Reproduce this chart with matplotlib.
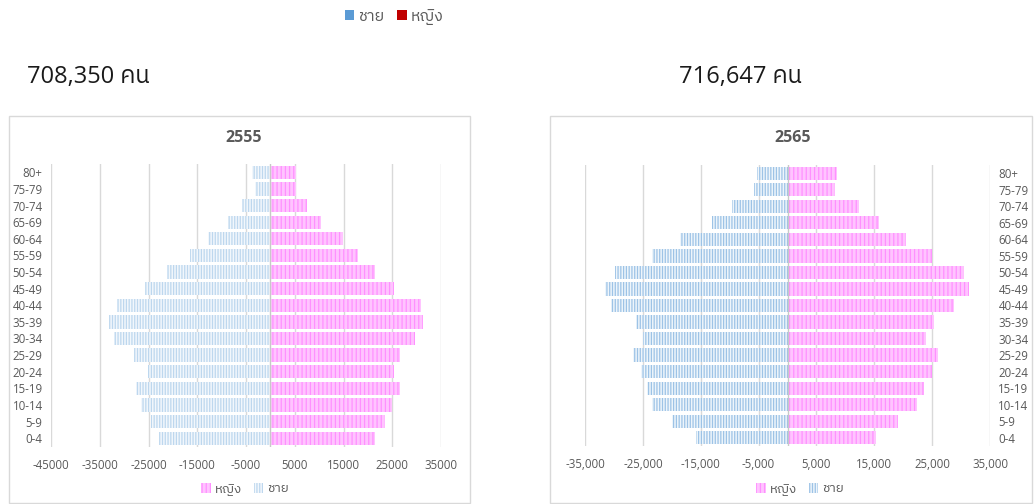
import matplotlib
matplotlib.use("Agg")
import matplotlib.pyplot as plt
from matplotlib import font_manager
from matplotlib.ft2font import FT2Font
from matplotlib.patches import Rectangle, Patch
from matplotlib.ticker import FuncFormatter, FixedLocator

# ---------------- data ----------------
age_groups = ["0-4", "5-9", "10-14", "15-19", "20-24", "25-29", "30-34", "35-39",
              "40-44", "45-49", "50-54", "55-59", "60-64", "65-69", "70-74", "75-79", "80+"]

male_2555 = [22880, 24510, 26640, 27660, 25200, 28070, 32010, 33100,
             31460, 25680, 21120, 16490, 12750, 8790, 5720, 3200, 3760]
female_2555 = [21520, 23490, 25050, 26620, 25400, 26620, 29680, 31380,
               30970, 25400, 21520, 18040, 14840, 10480, 7420, 5250, 5310]

male_2565 = [15830, 19940, 23420, 24230, 25280, 26720, 24990, 26260,
             30430, 31590, 29800, 23480, 18550, 12990, 9510, 5855, 5275]
female_2565 = [15250, 19070, 22430, 23590, 25040, 26030, 23880, 25330,
               28810, 31300, 30490, 25040, 20410, 15880, 12410, 8230, 8640]

titles = ["2555", "2565"]
totals = ["708,350 คน", "716,647 คน"]
label_male = "ชาย"
label_female = "หญิง"
ticks_2555 = [-45000, -35000, -25000, -15000, -5000, 5000, 15000, 25000, 35000]
ticks_2565 = [-35000, -25000, -15000, -5000, 5000, 15000, 25000, 35000]

# ---------------- fonts ----------------
def find_thai_font():
    preferred = []
    others = []
    for f in font_manager.fontManager.ttflist:
        try:
            cmap = FT2Font(f.fname).get_charmap()
        except Exception:
            continue
        if 0x0E0D in cmap and 0x0E0A in cmap:
            if f.style == "normal" and f.weight in (400, "normal", "regular"):
                preferred.append(f.name)
            else:
                others.append(f.name)
    for lst in (preferred, others):
        for nm in lst:
            if "Sans" in nm:
                return nm
        if lst:
            return lst[0]
    return None

thai = find_thai_font()
families = ["Open Sans"] + ([thai] if thai else []) + ["DejaVu Sans"]
plt.rcParams["font.family"] = families
plt.rcParams["hatch.linewidth"] = 0.9

W, H = 1035, 504
fig = plt.figure(figsize=(W / 100, H / 100), dpi=100)

def fx(px):
    return px / W

def fy(py):
    return 1 - py / H

grey_text = "#595959"
grid_col = "#D9D9D9"

# panel frames
for x0, x1 in [(9, 470), (550, 1032)]:
    fig.patches.append(Rectangle((fx(x0), fy(503)), fx(x1 - x0), (503 - 116) / H,
                                 transform=fig.transFigure, facecolor="none",
                                 edgecolor=grid_col, linewidth=1.0, zorder=-10))

def draw_panel(ax, male, female, ticks, xmin, xmax, male_edge, male_face, fmt, right_labels):
    y = list(range(len(age_groups)))
    ax.barh(y, [-m for m in male], height=0.8, color=male_face, edgecolor=male_edge,
            hatch="||||||", linewidth=0, zorder=3)
    ax.barh(y, female, height=0.8, color="#FFC4FF", edgecolor="#FF90FF",
            hatch="||||", linewidth=0, zorder=3)
    ax.set_xlim(xmin, xmax)
    ax.set_ylim(-0.5, len(age_groups) - 0.5)
    ax.xaxis.set_major_locator(FixedLocator(ticks))
    ax.xaxis.set_major_formatter(FuncFormatter(fmt))
    ax.set_yticks(y)
    ax.set_yticklabels(age_groups)
    ax.grid(axis="x", color=grid_col, linewidth=1.0, zorder=0)
    ax.axvline(0, color="#C8C8C8", linewidth=1.0, zorder=4)
    for s in ax.spines.values():
        s.set_visible(False)
    ax.tick_params(axis="both", length=0, labelsize=8.3, labelcolor=grey_text)
    ax.tick_params(axis="x", pad=9)
    ax.tick_params(axis="y", pad=6)
    if right_labels:
        ax.yaxis.tick_right()
    ax.set_facecolor("none")

# left chart
ax1 = fig.add_axes([fx(51), fy(446.5), fx(441 - 51), (446.5 - 164) / H])
draw_panel(ax1, male_2555, female_2555, ticks_2555, -45000, 35000,
           "#BDD7EE", "#F2F7FC", lambda v, p: f"{int(v)}", False)

# right chart
ax2 = fig.add_axes([fx(585), fy(446), fx(990 - 585), (446 - 165) / H])
draw_panel(ax2, male_2565, female_2565, ticks_2565, -35000, 35000,
           "#9DC3E6", "#EEF5FB", lambda v, p: f"{int(v):,}", True)

# titles
fig.text(fx(244), fy(138), titles[0], ha="center", va="center", fontsize=11.5,
         fontweight="bold", color=grey_text)
fig.text(fx(793), fy(138), titles[1], ha="center", va="center", fontsize=11.5,
         fontweight="bold", color=grey_text)

# totals
fig.text(fx(27), fy(77), totals[0], ha="left", va="center", fontsize=17, color="#1a1a1a")
fig.text(fx(679), fy(77), totals[1], ha="left", va="center", fontsize=17, color="#1a1a1a")

# top legend
top_handles = [Patch(facecolor="#5B9BD5", edgecolor="none"),
               Patch(facecolor="#C00000", edgecolor="none")]
fig.legend(top_handles, [label_male, label_female], loc="center",
           bbox_to_anchor=(fx(394), fy(17)), ncol=2, frameon=False,
           handlelength=0.6, handleheight=0.6, handletextpad=0.25, columnspacing=0.8,
           fontsize=11.5, labelcolor=grey_text)

# bottom legends
def bottom_legend(cx, male_edge, male_face):
    hs = [Patch(facecolor="#FFC4FF", edgecolor="#FF90FF", hatch="||||", linewidth=0),
          Patch(facecolor=male_face, edgecolor=male_edge, hatch="||||||", linewidth=0)]
    fig.legend(hs, [label_female, label_male], loc="center",
               bbox_to_anchor=(fx(cx), fy(489)), ncol=2, frameon=False,
               handlelength=0.7, handleheight=0.7, handletextpad=0.3, columnspacing=0.9,
               fontsize=9.5, labelcolor=grey_text)

bottom_legend(245, "#BDD7EE", "#F2F7FC")
bottom_legend(800, "#9DC3E6", "#EEF5FB")

fig.savefig("out.png", dpi=100)
